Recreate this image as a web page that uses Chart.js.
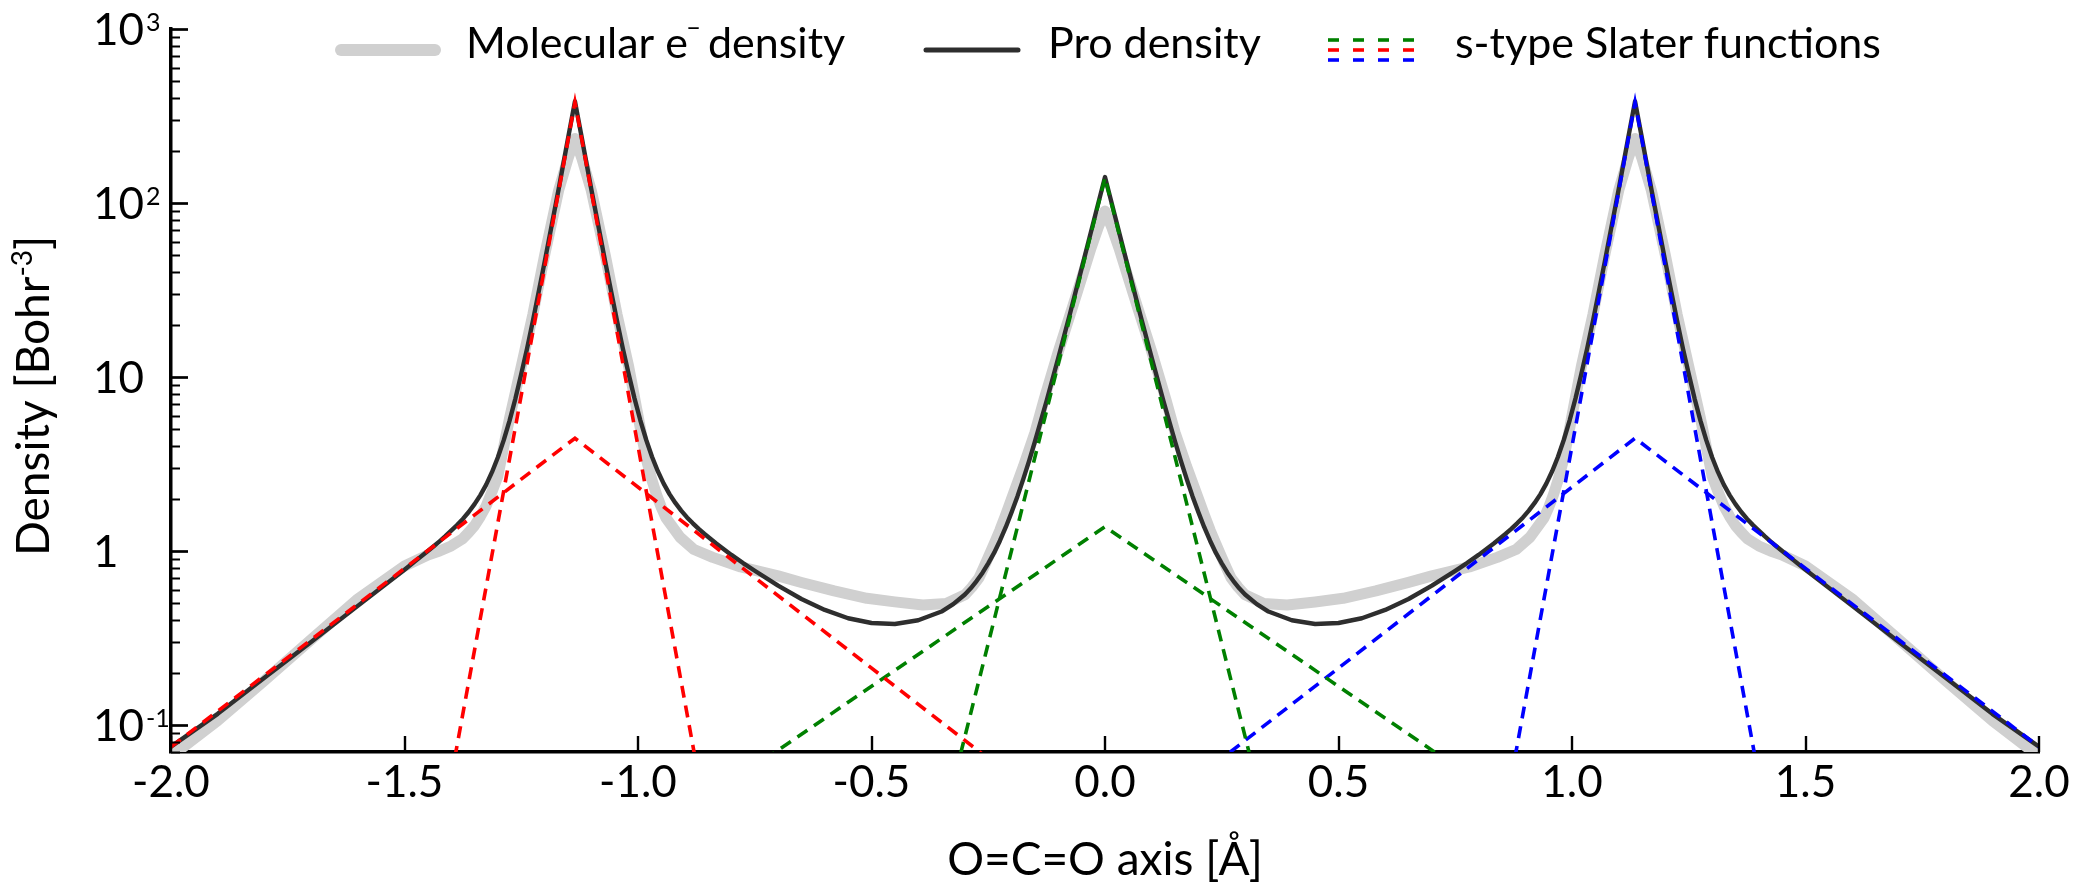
<!DOCTYPE html>
<html>
<head>
<meta charset="utf-8">
<script src="https://cdn.jsdelivr.net/npm/chart.js@4.4.1/dist/chart.umd.min.js"></script>
<style>
html,body{margin:0;padding:0;background:#ffffff;}
#wrap{width:2080px;height:883px;position:relative;}
</style>
</head>
<body>
<div id="wrap"><canvas id="c" width="2080" height="883"></canvas></div>
<script>
// ---------------- data ----------------
const proX = [-2.0,-1.9,-1.8,-1.7,-1.6,-1.5,-1.475,-1.45,-1.4375,-1.425,-1.4125,-1.4,-1.3875,-1.375,-1.3625,-1.35,-1.3375,-1.325,-1.3125,-1.3,-1.2875,-1.275,-1.2625,-1.25,-1.2375,-1.225,-1.2,-1.17,-1.15,-1.135,
  -1.12,-1.10,-1.07,-1.045,-1.0325,-1.02,-1.0075,-0.995,-0.9825,-0.97,-0.9575,-0.945,-0.9325,-0.92,-0.9075,-0.895,-0.8825,-0.87,-0.8575,-0.8325,-0.8,-0.775,-0.75,-0.7,-0.65,-0.6,-0.55,-0.5,-0.45,-0.4,-0.35,-0.325,-0.3,-0.2875,-0.275,-0.2625,-0.25,-0.2375,-0.225,-0.2125,-0.2,-0.1875,-0.175,-0.1625,-0.15,-0.125,-0.1,-0.075,-0.05,-0.02,0,
  0.02,0.05,0.075,0.1,0.125,0.15,0.1625,0.175,0.1875,0.2,0.2125,0.225,0.2375,0.25,0.2625,0.275,0.2875,0.3,0.325,0.35,0.4,0.45,0.5,0.55,0.6,0.65,0.7,0.75,0.775,0.8,0.8325,0.8575,0.87,0.8825,0.895,0.9075,0.92,0.9325,0.945,0.9575,0.97,0.9825,0.995,1.0075,1.02,1.0325,1.045,1.07,1.10,1.12,
  1.135,1.15,1.17,1.2,1.225,1.2375,1.25,1.2625,1.275,1.2875,1.3,1.3125,1.325,1.3375,1.35,1.3625,1.375,1.3875,1.4,1.4125,1.425,1.4375,1.45,1.475,1.5,1.6,1.7,1.8,1.9,2.0];
const proY = [0.075,0.116,0.187,0.30,0.484,0.78,0.884,1.0,1.065,1.137,1.217,1.31,1.409,1.53,1.676,1.86,2.097,2.41,2.848,3.46,4.338,5.62,7.52,10.4,14.6,21.1,45.7,120,234,384,
  234,120,45.7,21.1,14.6,10.4,7.54,5.64,4.36,3.48,2.872,2.44,2.124,1.89,1.706,1.56,1.443,1.34,1.254,1.106,0.95,0.853,0.77,0.632,0.53,0.459,0.411,0.386,0.381,0.400,0.449,0.495,0.563,0.611,0.672,0.748,0.85,0.975,1.146,1.37,1.67,2.06,2.59,3.30,4.26,7.30,12.9,23.1,42.1,87,141,
  87,42.1,23.1,12.9,7.30,4.26,3.30,2.59,2.06,1.67,1.37,1.146,0.975,0.85,0.748,0.672,0.611,0.563,0.495,0.449,0.400,0.381,0.386,0.411,0.459,0.53,0.632,0.77,0.853,0.95,1.106,1.254,1.34,1.443,1.56,1.706,1.89,2.124,2.44,2.872,3.48,4.36,5.64,7.54,10.4,14.6,21.1,45.7,120,234,
  384,234,120,45.7,21.1,14.6,10.4,7.52,5.62,4.338,3.46,2.848,2.41,2.097,1.86,1.676,1.53,1.409,1.31,1.217,1.137,1.065,1.0,0.884,0.78,0.484,0.30,0.187,0.116,0.075];

const molX = [-2.0,-1.9,-1.8,-1.7,-1.6,-1.55,-1.5,-1.45,-1.425,-1.4,-1.375,-1.3625,-1.35,-1.3375,-1.325,-1.3125,-1.3,-1.285,-1.275,-1.25,-1.225,-1.2,-1.17,-1.15,-1.135,
  -1.12,-1.10,-1.07,-1.045,-1.02,-1.0,-0.99,-0.98,-0.97,-0.96,-0.95,-0.94,-0.91,-0.88,-0.84,-0.78,-0.7,-0.65,-0.58,-0.51,-0.45,-0.39,-0.34,-0.3,-0.285,-0.27,-0.26,-0.25,-0.2375,-0.225,-0.2125,-0.2,-0.175,-0.15,-0.13,-0.1,-0.07,-0.05,-0.03,-0.015,0,
  0.015,0.03,0.05,0.07,0.1,0.13,0.15,0.175,0.2,0.2125,0.225,0.2375,0.25,0.26,0.27,0.285,0.3,0.34,0.39,0.45,0.51,0.58,0.65,0.7,0.78,0.84,0.88,0.91,0.94,0.95,0.96,0.97,0.98,0.99,1.0,1.02,1.045,1.07,1.10,1.12,
  1.135,1.15,1.17,1.2,1.225,1.25,1.275,1.285,1.3,1.3125,1.325,1.3375,1.35,1.3625,1.375,1.4,1.425,1.45,1.5,1.55,1.6,1.7,1.8,1.9,2.0];
const molY = [0.066,0.106,0.18,0.31,0.53,0.66,0.82,0.95,1.0,1.07,1.18,1.28,1.40,1.58,1.82,2.2,2.7,4.3,5.8,11.5,23,50,118,180,235,
  180,118,50,23,11.5,6.0,4.3,3.2,2.55,2.1,1.78,1.55,1.2,1.02,0.92,0.81,0.72,0.66,0.59,0.535,0.51,0.49,0.50,0.56,0.62,0.70,0.80,0.92,1.1,1.32,1.62,2.0,3.05,4.8,7.5,14,25,37,55,72,90,
  72,55,37,25,14,7.5,4.8,3.05,2.0,1.62,1.32,1.1,0.92,0.80,0.70,0.62,0.56,0.50,0.49,0.51,0.535,0.59,0.66,0.72,0.81,0.92,1.02,1.2,1.55,1.78,2.1,2.55,3.2,4.3,6.0,11.5,23,50,118,180,
  235,180,118,50,23,11.5,5.8,4.3,2.7,2.2,1.82,1.58,1.40,1.28,1.18,1.07,1.0,0.95,0.82,0.66,0.53,0.31,0.18,0.106,0.066];

// s-type Slater functions (O left = red, C = green, O right = blue)
const redCoreX = [-1.40,-1.135,-0.87];   const redCoreY = [0.05,380,0.05];
const redValX  = [-2.0,-1.135,-0.2];     const redValY  = [0.075,4.45,0.0505];
const grnCoreX = [-0.33,0,0.33];         const grnCoreY = [0.041,140,0.041];
const grnValX  = [-0.8,0,0.8];           const grnValY  = [0.047,1.38,0.047];
const bluCoreX = [0.87,1.135,1.40];      const bluCoreY = [0.05,380,0.05];
const bluValX  = [0.2,1.135,2.0];        const bluValY  = [0.0505,4.45,0.075];

const xTickValues = [-2.0,-1.5,-1.0,-0.5,0.0,0.5,1.0,1.5,2.0];
const yTickValues = [0.1,1,10,100,1000];
const yTickBase   = ['10','1','10','10','10'];
const yTickSup    = ['-1','','','2','3'];

const legendLabels = ['Molecular e', ' density', 'Pro density', 's-type Slater functions'];
const xTitle = 'O=C=O axis [Å]';
const yTitleMain = 'Density [Bohr';
const yTitleSup = '-3';

// ---------------- helpers ----------------
const FONT = 'Lato, "Noto Sans", sans-serif';
const pts = (xs, ys) => xs.map((x, i) => ({x: x, y: ys[i]}));

function dashed(label, xs, ys, color) {
  return {label, data: pts(xs, ys), borderColor: color, borderWidth: 3.6,
    borderDash: [12, 8], pointRadius: 0, showLine: true, fill: false, order: 1, tension: 0};
}

const overlay = {
  id: 'overlay',
  afterDraw(chart) {
    const ctx = chart.ctx;
    const xs = chart.scales.x, ys = chart.scales.y;
    const ca = chart.chartArea;
    ctx.save();
    ctx.strokeStyle = '#000'; ctx.fillStyle = '#000';
    // x ticks (inward)
    ctx.lineWidth = 2.4;
    xTickValues.forEach(v => {
      const px = Math.round(xs.getPixelForValue(v));
      ctx.beginPath(); ctx.moveTo(px, ca.bottom); ctx.lineTo(px, ca.bottom - 16); ctx.stroke();
    });
    // y ticks: major + minor (inward)
    for (let k = -2; k <= 2; k++) {
      for (let m = 1; m <= 9; m++) {
        const v = m * Math.pow(10, k);
        if (v < ys.min || v > ys.max + 1e-9) continue;
        const py = Math.round(ys.getPixelForValue(v)) + 0.5;
        ctx.lineWidth = m === 1 ? 2.7 : 2.0;
        ctx.beginPath(); ctx.moveTo(ca.left, py); ctx.lineTo(ca.left + (m === 1 ? 17 : 9), py); ctx.stroke();
      }
    }
    ctx.beginPath(); ctx.lineWidth = 2.7;
    ctx.moveTo(ca.left, ca.top + 0.5); ctx.lineTo(ca.left + 17, ca.top + 0.5); ctx.stroke();

    // y tick labels (left aligned, with superscripts)
    ctx.textAlign = 'left'; ctx.textBaseline = 'alphabetic';
    yTickValues.forEach((v, i) => {
      const py = ys.getPixelForValue(v);
      ctx.font = '44px ' + FONT;
      const base = yTickBase[i];
      ctx.fillText(base, 93, py + 15.8);
      if (yTickSup[i]) {
        const w = ctx.measureText(base).width;
        ctx.font = '25px ' + FONT;
        ctx.fillText(yTickSup[i], 93 + w + 2, py + 2);
      }
    });

    // y title (rotated)
    ctx.save();
    ctx.translate(49, 396);
    ctx.rotate(-Math.PI / 2);
    ctx.font = '46px ' + FONT;
    const w1 = ctx.measureText(yTitleMain).width;
    ctx.font = '28px ' + FONT;
    const w2 = ctx.measureText(yTitleSup).width;
    ctx.font = '46px ' + FONT;
    const w3 = ctx.measureText(']').width;
    let sx = -(w1 + w2 + w3) / 2;
    ctx.fillText(yTitleMain, sx, 0); sx += w1;
    ctx.font = '28px ' + FONT; ctx.fillText(yTitleSup, sx, -17); sx += w2;
    ctx.font = '46px ' + FONT; ctx.fillText(']', sx, 0);
    ctx.restore();

    // legend
    const ly = 50, tb = 58;
    ctx.lineCap = 'round';
    ctx.strokeStyle = '#d0d0d0'; ctx.lineWidth = 12;
    ctx.beginPath(); ctx.moveTo(341, ly); ctx.lineTo(435, ly); ctx.stroke();
    ctx.strokeStyle = '#2e2e2e'; ctx.lineWidth = 5;
    ctx.beginPath(); ctx.moveTo(926, ly); ctx.lineTo(1018, ly); ctx.stroke();
    ctx.lineCap = 'butt';
    const dcol = ['#008000', '#ff0000', '#0000ff'];
    dcol.forEach((c, r) => {
      ctx.strokeStyle = c; ctx.lineWidth = 3.6;
      for (let j = 0; j < 4; j++) {
        const x0 = 1328 + j * 25;
        ctx.beginPath(); ctx.moveTo(x0, ly - 10 + r * 10); ctx.lineTo(x0 + 11, ly - 10 + r * 10); ctx.stroke();
      }
    });
    ctx.fillStyle = '#000';
    ctx.font = '43px ' + FONT;
    ctx.fillText(legendLabels[0], 466, tb);
    let lx = 466 + ctx.measureText(legendLabels[0]).width;
    ctx.font = '26px ' + FONT;
    ctx.fillText('\u2013', lx - 2, tb - 22);
    lx += ctx.measureText('\u2013').width - 6;
    ctx.font = '43px ' + FONT;
    ctx.fillText(legendLabels[1], lx, tb);
    ctx.fillText(legendLabels[2], 1048, tb);
    ctx.fillText(legendLabels[3], 1455, tb);
    ctx.restore();
  }
};

new Chart(document.getElementById('c'), {
  type: 'scatter',
  data: {
    datasets: [
      dashed('O core', redCoreX, redCoreY, '#ff0000'),
      dashed('O valence', redValX, redValY, '#ff0000'),
      dashed('C core', grnCoreX, grnCoreY, '#008000'),
      dashed('C valence', grnValX, grnValY, '#008000'),
      dashed('O core (right)', bluCoreX, bluCoreY, '#0000ff'),
      dashed('O valence (right)', bluValX, bluValY, '#0000ff'),
      {label: 'Pro density', data: pts(proX, proY), borderColor: '#2e2e2e', borderWidth: 4.4,
       pointRadius: 0, showLine: true, fill: false, order: 2, tension: 0, borderJoinStyle: 'round'},
      {label: 'Molecular e\u207B density', data: pts(molX, molY), borderColor: '#d0d0d0', borderWidth: 11,
       pointRadius: 0, showLine: true, fill: false, order: 3, tension: 0, borderJoinStyle: 'round', borderCapStyle: 'round'}
    ]
  },
  options: {
    responsive: false,
    animation: false,
    devicePixelRatio: 1,
    layout: {padding: {top: 29, right: 41, bottom: 0, left: 0}},
    plugins: {legend: {display: false}, tooltip: {enabled: false}},
    scales: {
      x: {
        type: 'linear', min: -2, max: 2,
        afterBuildTicks: s => { s.ticks = xTickValues.map(v => ({value: v})); },
        afterFit: s => { s.height = 131; },
        grid: {display: false, drawTicks: false},
        border: {display: true, width: 3.5, color: '#000'},
        ticks: {font: {family: FONT, size: 44}, color: '#000', padding: 4, maxRotation: 0, autoSkip: false,
                callback: v => Number(v).toFixed(1)},
        title: {display: true, text: xTitle, font: {family: FONT, size: 46, lineHeight: 1}, color: '#000', padding: {top: 0, bottom: 0}}
      },
      y: {
        type: 'logarithmic', min: 0.07, max: 1000,
        afterFit: s => { s.width = 171; },
        grid: {display: false, drawTicks: false},
        border: {display: true, width: 3.5, color: '#000'},
        ticks: {display: false}
      }
    }
  },
  plugins: [overlay]
});
</script>
</body>
</html>
